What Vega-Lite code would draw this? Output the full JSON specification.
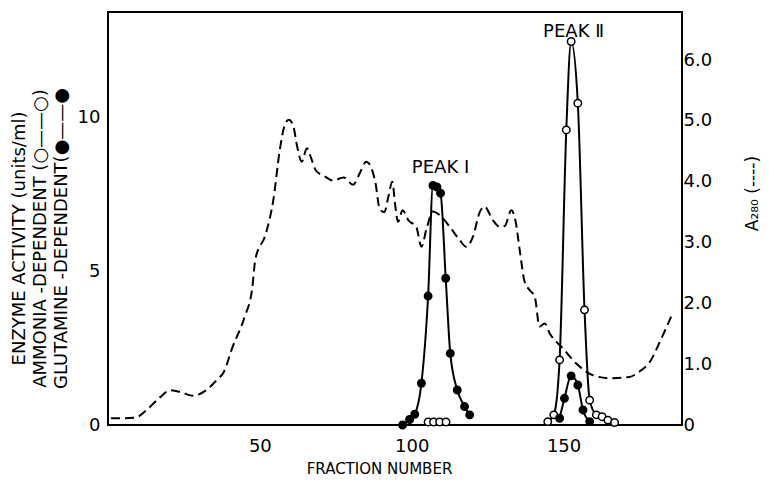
{
  "$schema": "https://vega.github.io/schema/vega-lite/v6.json",
  "width": 574,
  "height": 413,
  "autosize": {"type": "none"},
  "padding": {"left": 108, "top": 12, "right": 87, "bottom": 57},
  "background": "white",
  "config": {
    "view": {"stroke": "#000", "strokeWidth": 2},
    "font": "DejaVu Sans",
    "axis": {
      "domain": false,
      "grid": false,
      "ticks": false,
      "tickSize": 0,
      "labelColor": "#000",
      "titleColor": "#000",
      "labelFontSize": 18,
      "titleFontSize": 16,
      "titleFontWeight": "normal",
      "labelOverlap": false
    }
  },
  "datasets": {
    "a280": [
      {"fraction": 1, "a280": 0.11}, {"fraction": 5, "a280": 0.11}, {"fraction": 9, "a280": 0.12},
      {"fraction": 13, "a280": 0.26}, {"fraction": 17, "a280": 0.45}, {"fraction": 20.5, "a280": 0.57},
      {"fraction": 24, "a280": 0.54}, {"fraction": 28, "a280": 0.48}, {"fraction": 32, "a280": 0.56},
      {"fraction": 36, "a280": 0.75}, {"fraction": 38, "a280": 0.86}, {"fraction": 41, "a280": 1.28},
      {"fraction": 45, "a280": 1.78}, {"fraction": 47.5, "a280": 2.25}, {"fraction": 48.5, "a280": 2.72},
      {"fraction": 52, "a280": 3.15}, {"fraction": 54.5, "a280": 3.72}, {"fraction": 56.5, "a280": 4.5},
      {"fraction": 58, "a280": 4.9}, {"fraction": 59.5, "a280": 5.02}, {"fraction": 61, "a280": 4.92},
      {"fraction": 62.2, "a280": 4.6}, {"fraction": 63.8, "a280": 4.33}, {"fraction": 65.5, "a280": 4.55},
      {"fraction": 66.8, "a280": 4.4}, {"fraction": 68.5, "a280": 4.18}, {"fraction": 71, "a280": 4.1},
      {"fraction": 74, "a280": 4.02}, {"fraction": 77.6, "a280": 4.07}, {"fraction": 80.7, "a280": 3.95},
      {"fraction": 83, "a280": 4.15}, {"fraction": 85, "a280": 4.33}, {"fraction": 86.5, "a280": 4.25},
      {"fraction": 88, "a280": 4.0}, {"fraction": 89.5, "a280": 3.55}, {"fraction": 91, "a280": 3.5},
      {"fraction": 92.3, "a280": 3.75}, {"fraction": 93.6, "a280": 4.0}, {"fraction": 94.6, "a280": 3.6},
      {"fraction": 95.5, "a280": 3.34}, {"fraction": 97, "a280": 3.53}, {"fraction": 99, "a280": 3.36},
      {"fraction": 101.5, "a280": 3.26}, {"fraction": 103.2, "a280": 2.93}, {"fraction": 104.8, "a280": 3.21},
      {"fraction": 107, "a280": 3.51}, {"fraction": 109.2, "a280": 3.45}, {"fraction": 112.5, "a280": 3.26},
      {"fraction": 115.8, "a280": 3.04}, {"fraction": 118, "a280": 2.93}, {"fraction": 120.2, "a280": 3.1},
      {"fraction": 122.4, "a280": 3.5}, {"fraction": 124, "a280": 3.59}, {"fraction": 126.7, "a280": 3.37},
      {"fraction": 129, "a280": 3.26}, {"fraction": 130.6, "a280": 3.27}, {"fraction": 132.8, "a280": 3.53},
      {"fraction": 134.2, "a280": 3.35}, {"fraction": 135.5, "a280": 2.9}, {"fraction": 137.2, "a280": 2.35},
      {"fraction": 138.8, "a280": 2.22}, {"fraction": 140.5, "a280": 2.11}, {"fraction": 142.1, "a280": 1.62},
      {"fraction": 143.8, "a280": 1.67}, {"fraction": 145.4, "a280": 1.51}, {"fraction": 149.8, "a280": 1.26},
      {"fraction": 154.2, "a280": 1.01}, {"fraction": 159.6, "a280": 0.82}, {"fraction": 165, "a280": 0.77},
      {"fraction": 171.7, "a280": 0.79}, {"fraction": 175, "a280": 0.88}, {"fraction": 178.3, "a280": 1.03},
      {"fraction": 182, "a280": 1.4}, {"fraction": 186, "a280": 1.85}
    ],
    "enzyme": [
      {"series": "glutamine I", "assay": "glutamine", "fraction": 97, "activity": 0.0},
      {"series": "glutamine I", "assay": "glutamine", "fraction": 99.3, "activity": 0.18},
      {"series": "glutamine I", "assay": "glutamine", "fraction": 101, "activity": 0.35},
      {"series": "glutamine I", "assay": "glutamine", "fraction": 103.2, "activity": 1.36},
      {"series": "glutamine I", "assay": "glutamine", "fraction": 105.4, "activity": 4.2},
      {"series": "glutamine I", "assay": "glutamine", "fraction": 107, "activity": 7.8},
      {"series": "glutamine I", "assay": "glutamine", "fraction": 108.3, "activity": 7.75},
      {"series": "glutamine I", "assay": "glutamine", "fraction": 109.5, "activity": 7.55},
      {"series": "glutamine I", "assay": "glutamine", "fraction": 111.2, "activity": 4.78},
      {"series": "glutamine I", "assay": "glutamine", "fraction": 112.7, "activity": 2.33},
      {"series": "glutamine I", "assay": "glutamine", "fraction": 115, "activity": 1.14},
      {"series": "glutamine I", "assay": "glutamine", "fraction": 117.4, "activity": 0.6},
      {"series": "glutamine I", "assay": "glutamine", "fraction": 119.1, "activity": 0.33},
      {"series": "ammonia I", "assay": "ammonia", "fraction": 105.4, "activity": 0.1},
      {"series": "ammonia I", "assay": "ammonia", "fraction": 107.2, "activity": 0.1},
      {"series": "ammonia I", "assay": "ammonia", "fraction": 109.2, "activity": 0.1},
      {"series": "ammonia I", "assay": "ammonia", "fraction": 111.3, "activity": 0.1},
      {"series": "ammonia II", "assay": "ammonia", "fraction": 144.8, "activity": 0.11},
      {"series": "ammonia II", "assay": "ammonia", "fraction": 146.8, "activity": 0.33},
      {"series": "ammonia II", "assay": "ammonia", "fraction": 148.7, "activity": 2.12},
      {"series": "ammonia II", "assay": "ammonia", "fraction": 150.9, "activity": 9.61},
      {"series": "ammonia II", "assay": "ammonia", "fraction": 152.5, "activity": 12.49},
      {"series": "ammonia II", "assay": "ammonia", "fraction": 154.7, "activity": 10.48},
      {"series": "ammonia II", "assay": "ammonia", "fraction": 156.9, "activity": 3.75},
      {"series": "ammonia II", "assay": "ammonia", "fraction": 158.6, "activity": 0.81},
      {"series": "ammonia II", "assay": "ammonia", "fraction": 160.8, "activity": 0.33},
      {"series": "ammonia II", "assay": "ammonia", "fraction": 162.7, "activity": 0.27},
      {"series": "ammonia II", "assay": "ammonia", "fraction": 164.6, "activity": 0.16},
      {"series": "ammonia II", "assay": "ammonia", "fraction": 166.8, "activity": 0.08},
      {"series": "glutamine II", "assay": "glutamine", "fraction": 148.7, "activity": 0.22},
      {"series": "glutamine II", "assay": "glutamine", "fraction": 150.3, "activity": 0.87},
      {"series": "glutamine II", "assay": "glutamine", "fraction": 152.5, "activity": 1.6},
      {"series": "glutamine II", "assay": "glutamine", "fraction": 154.7, "activity": 1.3},
      {"series": "glutamine II", "assay": "glutamine", "fraction": 156.4, "activity": 0.49},
      {"series": "glutamine II", "assay": "glutamine", "fraction": 158.6, "activity": 0.11}
    ],
    "peaks": [
      {"label": "PEAK Ⅰ", "fraction": 109.5, "activity": 8.37},
      {"label": "PEAK Ⅱ", "fraction": 153.3, "activity": 12.8}
    ],
    "fractionTicks": [
      {"fraction": 10}, {"fraction": 20}, {"fraction": 30}, {"fraction": 40}, {"fraction": 50}, {"fraction": 60},
      {"fraction": 70}, {"fraction": 80}, {"fraction": 90}, {"fraction": 100}, {"fraction": 110}, {"fraction": 120},
      {"fraction": 130}, {"fraction": 140}, {"fraction": 150}, {"fraction": 160}, {"fraction": 170}, {"fraction": 180}
    ],
    "activityTicks": [
      {"activity": 1}, {"activity": 2}, {"activity": 3}, {"activity": 4}, {"activity": 5}, {"activity": 6},
      {"activity": 7}, {"activity": 8}, {"activity": 9}, {"activity": 10}, {"activity": 11}, {"activity": 12}
    ],
    "a280Ticks": [
      {"a280": 1}, {"a280": 2}, {"a280": 3}, {"a280": 4}, {"a280": 5}, {"a280": 6}
    ]
  },
  "layer": [
    {
      "encoding": {
        "x": {
          "field": "fraction", "type": "quantitative",
          "scale": {"domain": [0, 189], "nice": false, "zero": false, "padding": 0},
          "axis": {
            "title": "FRACTION NUMBER",
            "values": [50, 100, 150],
            "labelPadding": 12,
            "titleFontSize": 15,
            "titleX": 271,
            "titleY": 48,
            "titleBaseline": "alphabetic",
            "titleAlign": "center"
          }
        },
        "y": {
          "field": "a280", "type": "quantitative",
          "scale": {"domain": [0, 6.79], "nice": false, "padding": 0},
          "axis": {
            "orient": "right",
            "values": [0, 1, 2, 3, 4, 5, 6],
            "labelExpr": "datum.value === 0 ? '0' : format(datum.value, '.1f')",
            "labelPadding": 1,
            "title": "A₂₈₀ (----)",
            "titleFontSize": 17,
            "titleAngle": 270,
            "titleX": 70,
            "titleY": 181,
            "titleAlign": "center",
            "titleBaseline": "middle"
          }
        }
      },
      "layer": [
        {
          "data": {"name": "a280"},
          "mark": {"type": "line", "stroke": "#000", "strokeWidth": 2, "strokeDash": [9, 5], "interpolate": "monotone"}
        },
        {
          "data": {"name": "a280Ticks"},
          "mark": {"type": "bar", "orient": "horizontal", "color": "#000", "opacity": 1, "size": 2},
          "encoding": {"x": {"datum": 185.4}, "x2": {"datum": 189}}
        }
      ]
    },
    {
      "encoding": {
        "x": {
          "field": "fraction", "type": "quantitative",
          "scale": {"domain": [0, 189], "nice": false, "zero": false, "padding": 0},
          "axis": {
            "title": "FRACTION NUMBER",
            "values": [50, 100, 150],
            "labelPadding": 12,
            "titleFontSize": 15,
            "titleX": 271,
            "titleY": 48,
            "titleBaseline": "alphabetic",
            "titleAlign": "center"
          }
        },
        "y": {
          "field": "activity", "type": "quantitative",
          "scale": {"domain": [0, 13.45], "nice": false, "padding": 0},
          "axis": {
            "orient": "left",
            "values": [0, 5, 10],
            "labelPadding": 8,
            "title": ["ENZYME ACTIVITY (units/ml)", "AMMONIA -DEPENDENT (○——○)", "GLUTAMINE -DEPENDENT(●——●"],
            "titleFontSize": 18,
            "titleAngle": 270,
            "titleX": -98,
            "titleY": 226,
            "titleAlign": "center",
            "titleBaseline": "top",
            "titleLineHeight": 21
          }
        }
      },
      "layer": [
        {
          "data": {"name": "fractionTicks"},
          "transform": [{"filter": "datum.fraction % 50 !== 0"}],
          "mark": {"type": "bar", "orient": "vertical", "color": "#000", "opacity": 1, "size": 2},
          "encoding": {"y": {"datum": 0}, "y2": {"datum": 0.17}}
        },
        {
          "data": {"name": "fractionTicks"},
          "transform": [{"filter": "datum.fraction % 50 === 0"}],
          "mark": {"type": "bar", "orient": "vertical", "color": "#000", "opacity": 1, "size": 2},
          "encoding": {"y": {"datum": 0}, "y2": {"datum": 0.36}}
        },
        {
          "data": {"name": "activityTicks"},
          "transform": [{"filter": "datum.activity % 5 !== 0"}],
          "mark": {"type": "bar", "orient": "horizontal", "color": "#000", "opacity": 1, "size": 2},
          "encoding": {"x": {"datum": 0}, "x2": {"datum": 1.7}}
        },
        {
          "data": {"name": "activityTicks"},
          "transform": [{"filter": "datum.activity % 5 === 0"}],
          "mark": {"type": "bar", "orient": "horizontal", "color": "#000", "opacity": 1, "size": 2},
          "encoding": {"x": {"datum": 0}, "x2": {"datum": 3.6}}
        },
        {
          "data": {"name": "enzyme"},
          "mark": {"type": "line", "stroke": "#000", "strokeWidth": 2, "interpolate": "monotone"},
          "encoding": {"detail": {"field": "series"}}
        },
        {
          "data": {"name": "enzyme"},
          "mark": {"type": "point", "shape": "circle", "size": 55, "stroke": "#000", "strokeWidth": 1.5, "opacity": 1},
          "encoding": {
            "fill": {
              "field": "assay", "type": "nominal",
              "scale": {"domain": ["ammonia", "glutamine"], "range": ["#ffffff", "#000000"]},
              "legend": null
            }
          }
        },
        {
          "data": {"name": "peaks"},
          "mark": {"type": "text", "fontSize": 18, "color": "#000", "baseline": "middle", "align": "center"},
          "encoding": {"text": {"field": "label"}}
        }
      ]
    }
  ],
  "resolve": {"scale": {"y": "independent"}}
}
